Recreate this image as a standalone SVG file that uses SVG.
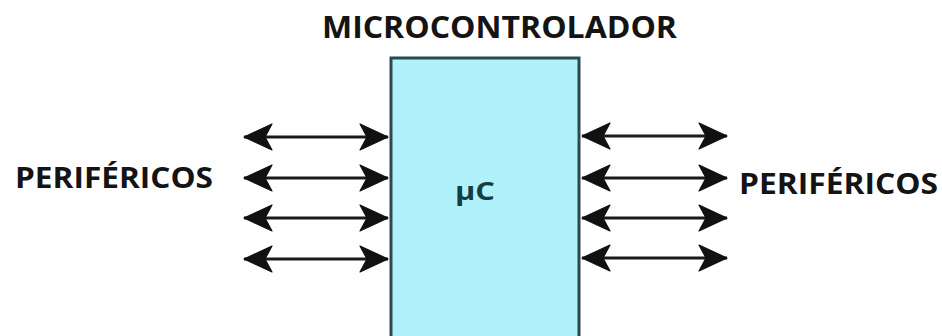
<svg xmlns="http://www.w3.org/2000/svg" width="942" height="336" viewBox="0 0 942 336">
<style>
.lbl{font-family:"Open Sans","Liberation Sans",sans-serif;font-weight:bold;fill:#141414}
.conn line{stroke:#1a1a1a;stroke-width:3.2;marker-start:url(#ah);marker-end:url(#ah)}
</style>
<defs>
<marker id="ah" markerUnits="userSpaceOnUse" markerWidth="32" markerHeight="32" viewBox="-30 -16 32 32" refX="0" refY="0" orient="auto-start-reverse">
<path d="M0,0 L-28,-13 L-21,0 L-28,13 Z" fill="#111" stroke="#111" stroke-width="1.2" stroke-linejoin="round"/>
</marker>
</defs>
<rect width="942" height="336" fill="#ffffff"/>
<g id="microcontrolador">
<rect x="391" y="58" width="188" height="290" fill="#b0f2f9" stroke="#2c4a4e" stroke-width="3"/>
<text class="lbl" x="322" y="38" font-size="30" textLength="355" lengthAdjust="spacingAndGlyphs">MICROCONTROLADOR</text>
<text class="lbl" x="455" y="200" font-size="25" style="fill:#163d45" textLength="40" lengthAdjust="spacingAndGlyphs">μC</text>
</g>
<g id="perifericos-izq">
<text class="lbl" x="15" y="188" font-size="29" textLength="198" lengthAdjust="spacingAndGlyphs">PERIFÉRICOS</text>
</g>
<g id="perifericos-der">
<text class="lbl" x="739" y="194" font-size="29" textLength="199" lengthAdjust="spacingAndGlyphs">PERIFÉRICOS</text>
</g>
<g id="conectores" class="conn">
<line x1="244" y1="137" x2="388" y2="137"/>
<line x1="244" y1="178" x2="388" y2="178"/>
<line x1="244" y1="218" x2="388" y2="218"/>
<line x1="244" y1="259" x2="388" y2="259"/>
<line x1="582" y1="136" x2="727" y2="136"/>
<line x1="582" y1="178" x2="727" y2="178"/>
<line x1="582" y1="218" x2="727" y2="218"/>
<line x1="582" y1="258" x2="727" y2="258"/>
</g>
</svg>
